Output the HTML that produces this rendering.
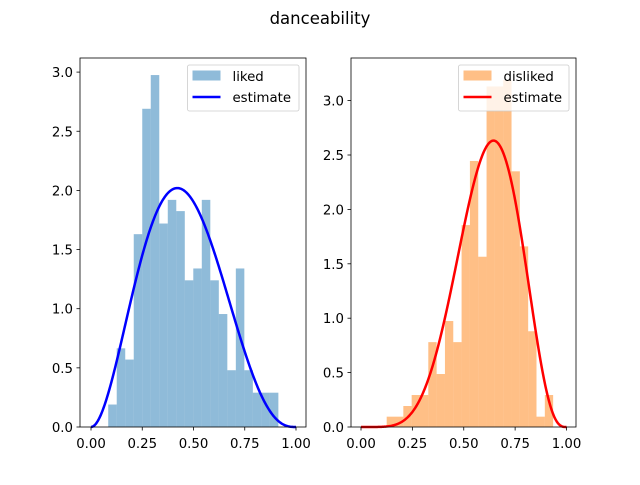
<!DOCTYPE html>
<html><head><meta charset="utf-8"><style>
body{margin:0;background:#fff}
svg{font-family:"DejaVu Sans","Liberation Sans",sans-serif}
</style></head><body>
<svg id="c" width="640" height="480" xmlns="http://www.w3.org/2000/svg">
<rect width="640" height="480" fill="#fff"/>
<text x="320" y="24" text-anchor="middle" font-size="16.5">danceability</text>
</svg>
<script>
// Left panel data (liked)
const likedBinStart = 0.084;
const likedBinWidth = 0.0415;
const likedHeights = [0.19,0.665,0.57,1.63,2.69,2.975,1.72,1.92,1.825,1.24,1.34,1.92,1.24,0.955,0.48,1.34,0.48,0.29,0.29,0.29];
const likedFit = [3.0, 3.75]; // beta fit params
// Right panel data (disliked)
const dislikedBinStart = 0.125;
const dislikedBinWidth = 0.0405;
const dislikedHeights = [0.095,0.095,0.193,0.294,0.294,0.78,0.487,0.974,0.78,1.856,2.445,1.565,3.13,3.13,3.19,2.35,1.66,0.88,0.095,0.294];
const dislikedFit = [6.5, 4.03];
const xTicks = [0,0.25,0.5,0.75,1.0];
const xTickLabels = ["0.00","0.25","0.50","0.75","1.00"];
const yTicks = [0,0.5,1.0,1.5,2.0,2.5,3.0];
const yTickLabels = ["0.0","0.5","1.0","1.5","2.0","2.5","3.0"];

const NS="http://www.w3.org/2000/svg";
const svg=document.getElementById('c');
function mk(tag,attrs,parent){const e=document.createElementNS(NS,tag);for(const k in attrs)e.setAttribute(k,attrs[k]);(parent||svg).appendChild(e);return e;}
function lgamma(z){const g=7,c=[0.99999999999980993,676.5203681218851,-1259.1392167224028,771.32342877765313,-176.61502916214059,12.507343278686905,-0.13857109526572012,9.9843695780195716e-6,1.5056327351493116e-7];
 if(z<0.5)return Math.log(Math.PI/Math.sin(Math.PI*z))-lgamma(1-z);z-=1;let x=c[0];for(let i=1;i<g+2;i++)x+=c[i]/(z+i);const t=z+g+0.5;return 0.5*Math.log(2*Math.PI)+(z+0.5)*Math.log(t)-t+Math.log(x);}
function betaPdf(x,a,b){if(x<=0||x>=1)return 0;return Math.exp((a-1)*Math.log(x)+(b-1)*Math.log(1-x)-(lgamma(a)+lgamma(b)-lgamma(a+b)));}

function panel(o){
 const g=mk('g',{});
 
 
 const L=o.left,R=o.right,T=58,B=427;
 const xs=v=>o.x0+v*(o.x1-o.x0);
 const ys=v=>B-v*o.yscale;
 o.heights.forEach((h,i)=>{
  const a=xs(o.start+i*o.width),b=xs(o.start+(i+1)*o.width);
  const r=mk('rect',{x:a,y:ys(h),width:b-a,height:B-ys(h),fill:o.barColor,'fill-opacity':0.5},g);
  
  
 });
 let d='';
 for(let i=0;i<=300;i++){const x=i/300;const y=betaPdf(x,o.fit[0],o.fit[1]);d+=(i?'L':'M')+xs(x).toFixed(2)+','+ys(y).toFixed(2);}
 const p=mk('path',{d:d,fill:'none',stroke:o.lineColor,'stroke-width':2.5},g);
 
 
 const fr=mk('rect',{x:L,y:T,width:R-L,height:B-T,fill:'none',stroke:'#000','stroke-width':0.8},g);
 
 
 xTicks.forEach((v,i)=>{
  mk('line',{x1:xs(v),x2:xs(v),y1:B,y2:B+3.5,stroke:'#000','stroke-width':0.8},g);
  const t=mk('text',{x:xs(v),y:B+21,'text-anchor':'middle','font-size':13.3},g);
  t.textContent=xTickLabels[i];
  
  
 });
 yTicks.forEach((v,i)=>{
  mk('line',{x1:L,x2:L-3.5,y1:ys(v),y2:ys(v),stroke:'#000','stroke-width':0.8},g);
  const t=mk('text',{x:L-7,y:ys(v)+5,'text-anchor':'end','font-size':13.3},g);
  t.textContent=yTickLabels[i];
  
  
 });
 const lg=mk('g',{},g);
 
 
 mk('rect',{x:o.lx,y:65,width:R-7-o.lx,height:46,rx:2,fill:'#fff','fill-opacity':0.8,stroke:'#ccc','stroke-width':0.8},lg);
 mk('rect',{x:o.lx+5,y:70.5,width:28,height:10,fill:o.barColor,'fill-opacity':0.5},lg);
 const t1=mk('text',{x:o.lx+45,y:81,'font-size':13.3},lg);t1.textContent=o.label;
 
 
 mk('line',{x1:o.lx+5,x2:o.lx+33,y1:97,y2:97,stroke:o.lineColor,'stroke-width':2.5},lg);
 const t2=mk('text',{x:o.lx+45,y:102,'font-size':13.3},lg);t2.textContent='estimate';
 
 
}
panel({name:'liked',left:80,right:306,x0:91,x1:296,yscale:118.3,start:likedBinStart,width:likedBinWidth,heights:likedHeights,fit:likedFit,barColor:'#1f77b4',lineColor:'#0000ff',label:'liked',lx:187.5});
panel({name:'disliked',left:351,right:576,x0:361,x1:566.5,yscale:108.8,start:dislikedBinStart,width:dislikedBinWidth,heights:dislikedHeights,fit:dislikedFit,barColor:'#ff7f0e',lineColor:'#ff0000',label:'disliked',lx:458.5});
</script>
</body></html>
